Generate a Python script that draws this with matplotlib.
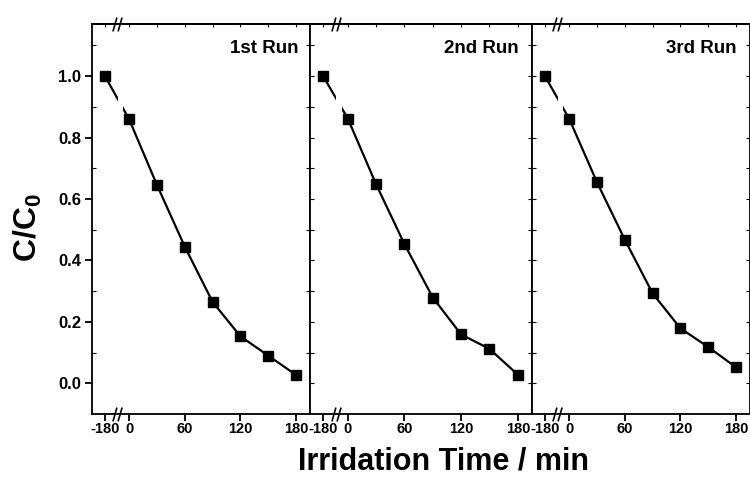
import matplotlib
matplotlib.use('Agg')
import matplotlib.pyplot as plt
import matplotlib.transforms as mtrans
from matplotlib.path import Path

plt.rcParams['font.family'] = ['Liberation Sans', 'DejaVu Sans']
plt.rcParams['font.weight'] = 'bold'
plt.rcParams['mathtext.fontset'] = 'custom'
plt.rcParams['mathtext.rm'] = 'Liberation Sans:bold'
plt.rcParams['mathtext.bf'] = 'Liberation Sans:bold'

# irradiation time (min), -180 is the dark adsorption start
times = [-180, 0, 30, 60, 90, 120, 150, 180]
run1 = [1.0, 0.86, 0.646, 0.445, 0.265, 0.153, 0.09, 0.027]
run2 = [1.0, 0.862, 0.648, 0.453, 0.279, 0.159, 0.112, 0.028]
run3 = [1.0, 0.862, 0.655, 0.468, 0.293, 0.179, 0.118, 0.052]
runs = [run1, run2, run3]
run_labels = ['1st Run', '2nd Run', '3rd Run']
tick_times = [-180, 0, 60, 120, 180]
top_times = [-180, 0, 30, 60, 90, 120, 150, 180]

# broken axis: -180 is drawn close to 0
def xpos(t):
    return t if t >= 0 else -26

brk = -13

fig = plt.figure(figsize=(7.5, 4.83), dpi=100)
bottom, height = 69 / 483, 390 / 483
boxes = [(92, 218), (310, 222), (532, 218)]
label_x = [0.945, 0.941, 0.94]

slash = Path([(-2.3, -3.5), (-0.3, 3.5), (0.3, -3.5), (2.3, 3.5)],
             [Path.MOVETO, Path.LINETO, Path.MOVETO, Path.LINETO])

for i, (left, w) in enumerate(boxes):
    ax = fig.add_axes([left / 750, bottom, w / 750, height])
    xs = [xpos(t) for t in times]
    ax.plot(xs, runs[i], color='black', lw=1.6, zorder=2)
    ax.axvspan(-12, -6.5, color='white', lw=0, zorder=2.1)
    ax.plot(xs, runs[i], ls='none', marker='s', ms=6.5, color='black', zorder=3)
    ax.set_xlim(-40, 195)
    ax.set_ylim(-0.1, 1.17)

    for s in ax.spines.values():
        s.set_linewidth(1.3)

    ax.set_xticks([xpos(t) for t in tick_times])
    ax.set_xticklabels([str(t) for t in tick_times], fontsize=10.5, fontweight='bold')
    ax.tick_params(axis='x', which='major', direction='out', length=5, width=1.3, pad=1)

    sec = ax.secondary_xaxis('top')
    sec.set_xticks([xpos(t) for t in top_times])
    sec.set_xticklabels([])
    sec.tick_params(direction='in', length=2.5, width=0.8)
    sec.spines['top'].set_linewidth(1.3)

    ax.set_yticks([0.0, 0.2, 0.4, 0.6, 0.8, 1.0])
    ax.set_yticks([0.1, 0.3, 0.5, 0.7, 0.9, 1.1], minor=True)
    if i == 0:
        ax.set_yticklabels(['%.1f' % v for v in ax.get_yticks()],
                           fontsize=12, fontweight='bold')
        ax.tick_params(axis='y', which='major', direction='out', length=5,
                       width=1.3, pad=3, right=True)
    else:
        ax.set_yticklabels([])
        ax.tick_params(axis='y', which='major', direction='in', length=3,
                       width=0.8, right=True)
    ax.tick_params(axis='y', which='minor', direction='in', length=3,
                   width=0.8, right=True)

    trans = mtrans.blended_transform_factory(ax.transData, ax.transAxes)
    for yy in (0, 1):
        ax.plot([brk], [yy], transform=trans, marker=slash, ms=10,
                mfc='none', mec='black', mew=1.2, ls='none', clip_on=False, zorder=5)

    ax.text(label_x[i], 0.936, run_labels[i], transform=ax.transAxes,
            ha='right', va='center', fontsize=13.5, fontweight='bold')

fig.text(443 / 750, 1 - 461 / 483, 'Irridation Time / min', ha='center', va='center',
         fontsize=22, fontweight='bold')
fig.text(28 / 750, 1 - 228 / 483, r'$\mathbf{C/C_0}$', ha='center', va='center',
         rotation=90, fontsize=23)

fig.savefig('out.png', dpi=100)
